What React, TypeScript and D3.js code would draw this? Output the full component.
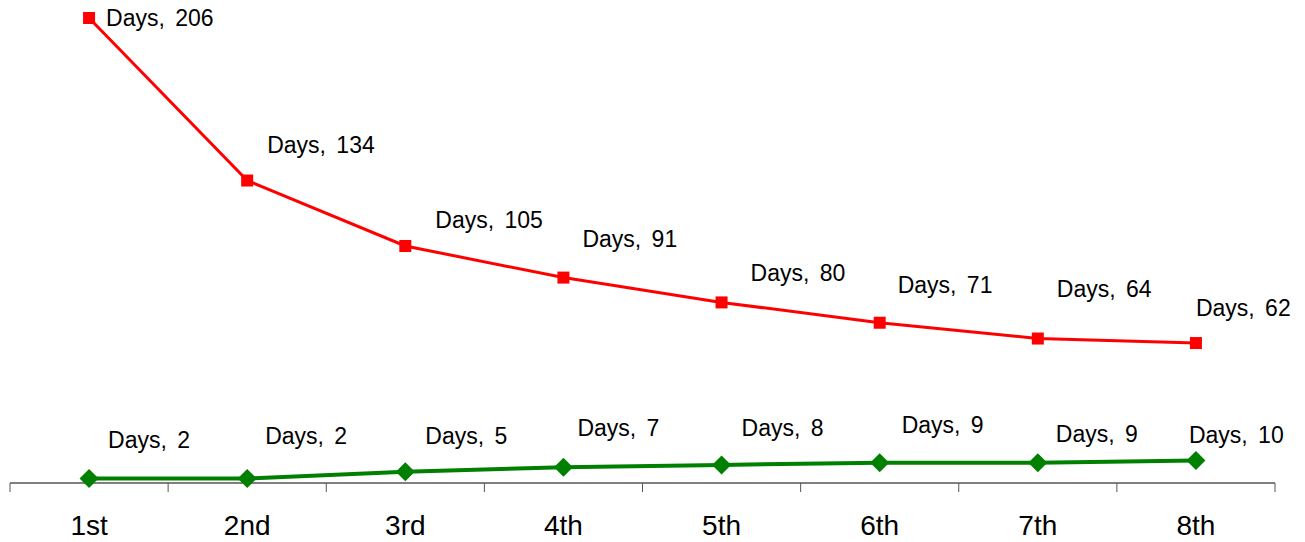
import React from "react";
import * as d3 from "d3";

// Order of the attempt along the x axis
const categories = ["1st", "2nd", "3rd", "4th", "5th", "6th", "7th", "8th"];
// Upper series (red squares)
const upperDays = [206, 134, 105, 91, 80, 71, 64, 62];
// Lower series (green diamonds)
const lowerDays = [2, 2, 5, 7, 8, 9, 9, 10];
const seriesName = "Days";

// Label nudges relative to each point: [dx, dy] to the text's left edge / baseline
const upperLabelOffsets: [number, number][] = [
  [17, 8], [20, -28], [30, -18], [19, -31], [29, -21], [18, -30], [19, -42], [0, -27],
];
const lowerLabelOffsets: [number, number][] = [
  [19, -30], [18, -34], [20, -28], [14, -31], [20, -29], [22, -30], [18, -21], [-7, -17],
];

const W = 1305;
const H = 542;
const FONT = "'Liberation Sans', Arial, sans-serif";

export default function App() {
  const x = d3.scaleBand<string>().domain(categories).range([10, 1275]).padding(0);
  const y = d3.scaleLinear().domain([0, 206]).range([483, 18]);
  const cx = (c: string) => (x(c) ?? 0) + x.bandwidth() / 2;

  const line = d3
    .line<number>()
    .x((_, i) => cx(categories[i]))
    .y((d) => y(d));

  const axisY = y(0);
  const tickXs = [...categories.map((c) => x(c) ?? 0), x.range()[1]];

  const label = (v: number, i: number, off: [number, number], key: string) => (
    <text
      key={key}
      x={cx(categories[i]) + off[0]}
      y={y(v) + off[1]}
      fontFamily={FONT}
      fontSize={23}
      fill="#000"
      style={{ wordSpacing: "4px" }}
    >
      {`${seriesName}, ${v}`}
    </text>
  );

  return (
    <svg
      width={W}
      height={H}
      style={{ position: "absolute", left: 0, top: 0, background: "#fff" }}
    >
      {/* category axis */}
      <line x1={x.range()[0]} x2={x.range()[1]} y1={axisY} y2={axisY} stroke="#000" strokeWidth={1} />
      {tickXs.map((tx, i) => (
        <line key={`t${i}`} x1={tx} x2={tx} y1={axisY} y2={axisY + 9} stroke="#555" strokeWidth={1} />
      ))}
      {categories.map((c) => (
        <text
          key={c}
          x={cx(c)}
          y={535}
          textAnchor="middle"
          fontFamily={FONT}
          fontSize={28}
          fill="#000"
        >
          {c}
        </text>
      ))}

      {/* upper series */}
      <path d={line(upperDays) ?? ""} fill="none" stroke="#ff0000" strokeWidth={3} />
      {upperDays.map((v, i) => (
        <rect
          key={`u${i}`}
          x={cx(categories[i]) - 6}
          y={y(v) - 6}
          width={12}
          height={12}
          fill="#ff0000"
        />
      ))}

      {/* lower series */}
      <path d={line(lowerDays) ?? ""} fill="none" stroke="#008000" strokeWidth={4} />
      {lowerDays.map((v, i) => {
        const px = cx(categories[i]);
        const py = y(v);
        const r = 9.5;
        return (
          <path
            key={`l${i}`}
            d={`M${px},${py - r}L${px + r},${py}L${px},${py + r}L${px - r},${py}Z`}
            fill="#008000"
          />
        );
      })}

      {upperDays.map((v, i) => label(v, i, upperLabelOffsets[i], `ul${i}`))}
      {lowerDays.map((v, i) => label(v, i, lowerLabelOffsets[i], `ll${i}`))}
    </svg>
  );
}
